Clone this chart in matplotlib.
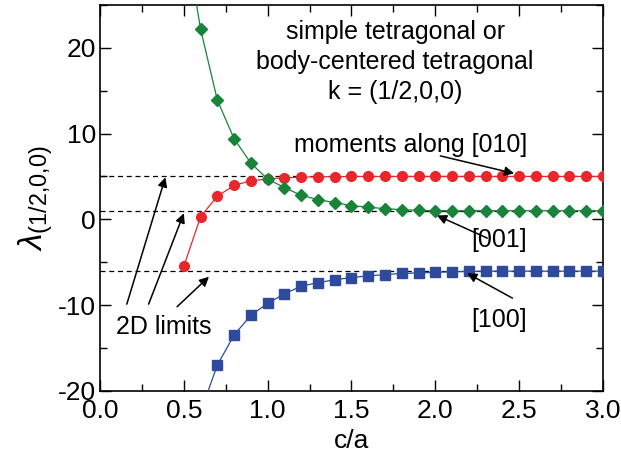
"""
    Lambda(1/2,0,0) vs c/a for tetragonal lattices
"""

from matplotlib import pyplot as plt
from matplotlib.ticker import MultipleLocator

plt.rcParams['font.family'] = ['Liberation Sans', 'DejaVu Sans']
plt.rcParams['mathtext.fontset'] = 'custom'
plt.rcParams['mathtext.rm'] = 'Liberation Sans'
plt.rcParams['mathtext.it'] = 'Liberation Sans:italic'
plt.rcParams['axes.unicode_minus'] = False

# moments along [010] (red circles)
ca_red = [0.5, 0.6, 0.7, 0.8, 0.9, 1.0, 1.1, 1.2, 1.3, 1.4, 1.5, 1.6, 1.7, 1.8,
          1.9, 2.0, 2.1, 2.2, 2.3, 2.4, 2.5, 2.6, 2.7, 2.8, 2.9, 3.0]
lam_red = [-5.5, 0.3, 2.7, 3.95, 4.5, 4.7, 4.85, 4.92, 4.96, 4.98, 5.0, 5.0, 5.0,
           5.0, 5.0, 5.0, 5.0, 5.0, 5.0, 5.0, 5.0, 5.0, 5.0, 5.0, 5.0, 5.0]

# [001] (green diamonds)
ca_green = [0.5, 0.6, 0.7, 0.8, 0.9, 1.0, 1.1, 1.2, 1.3, 1.4, 1.5, 1.6, 1.7, 1.8,
            1.9, 2.0, 2.1, 2.2, 2.3, 2.4, 2.5, 2.6, 2.7, 2.8, 2.9, 3.0]
lam_green = [34.0, 22.2, 13.9, 9.4, 6.55, 4.7, 3.7, 2.8, 2.3, 1.95, 1.6, 1.4, 1.25,
             1.12, 1.05, 1.0, 1.0, 1.0, 1.0, 1.0, 1.0, 1.0, 1.0, 1.0, 1.0, 1.0]

# [100] (blue squares)
ca_blue = [0.6, 0.7, 0.8, 0.9, 1.0, 1.1, 1.2, 1.3, 1.4, 1.5, 1.6, 1.7, 1.8,
           1.9, 2.0, 2.1, 2.2, 2.3, 2.4, 2.5, 2.6, 2.7, 2.8, 2.9, 3.0]
lam_blue = [-22.5, -17.0, -13.5, -11.2, -9.8, -8.7, -7.8, -7.4, -7.05, -6.8, -6.6,
            -6.45, -6.32, -6.25, -6.2, -6.12, -6.08, -6.05, -6.05, -6.05, -6.05,
            -6.05, -6.05, -6.05, -6.05]

limits_2d = [5.0, 1.0, -6.0]

fig = plt.figure(figsize=(6.21, 4.61), dpi=100)
ax = fig.add_axes([0.161, 0.1525, 0.81, 0.8365])

for y in limits_2d:
    ax.axhline(y, color='black', ls=(0, (4, 3)), lw=0.9, zorder=1)

ax.plot(ca_red, lam_red, '-o', color='#e8262b', lw=0.9, ms=7, zorder=3)
ax.plot(ca_green, lam_green, '-D', color='#17843a', lw=0.9, ms=6.5, zorder=3)
ax.plot(ca_blue, lam_blue, '-s', color='#2d4a9c', lw=0.9, ms=7, zorder=3)

ax.set_xlim(0.0, 3.0)
ax.set_ylim(-20, 25)
ax.set_xticks([0.0, 0.5, 1.0, 1.5, 2.0, 2.5, 3.0])
ax.set_yticks([-20, -10, 0, 10, 20])
ax.xaxis.set_minor_locator(MultipleLocator(0.25))
ax.yaxis.set_minor_locator(MultipleLocator(5))
ax.tick_params(which='both', direction='in', top=True, right=True,
               labelsize=19, width=1)
ax.tick_params(axis='x', pad=6)
ax.tick_params(axis='y', pad=3)
ax.tick_params(which='major', length=8)
ax.tick_params(which='minor', length=5)
for s in ax.spines.values():
    s.set_linewidth(1.2)

ax.set_xlabel('c/a', fontsize=19, labelpad=4)
ax.set_ylabel(r'$\lambda_{\mathrm{(1/2{,}0{,}0)}}$', fontsize=24, labelpad=2)

ax.text(1.76, 18.4, 'simple tetragonal or\nbody-centered tetragonal\nk = (1/2,0,0)',
        ha='center', va='center', fontsize=18, linespacing=1.32)
ax.text(1.85, 8.7, 'moments along [010]', ha='center', va='center', fontsize=18)
ax.text(2.38, -2.4, '[001]', ha='center', va='center', fontsize=18)
ax.text(2.38, -11.7, '[100]', ha='center', va='center', fontsize=18)
ax.text(0.38, -12.6, '2D limits', ha='center', va='center', fontsize=18)

arrow = dict(arrowstyle='-|>', color='black', lw=1.1, mutation_scale=14,
             shrinkA=0, shrinkB=0)
ax.annotate('', xy=(2.47, 5.35), xytext=(2.03, 7.4), arrowprops=arrow)
ax.annotate('', xy=(2.01, 0.45), xytext=(2.31, -2.2), arrowprops=arrow)
ax.annotate('', xy=(2.19, -6.3), xytext=(2.46, -9.2), arrowprops=arrow)
ax.annotate('', xy=(0.39, 4.9), xytext=(0.16, -9.9), arrowprops=arrow)
ax.annotate('', xy=(0.50, 0.7), xytext=(0.29, -9.9), arrowprops=arrow)
ax.annotate('', xy=(0.65, -6.7), xytext=(0.46, -10.2), arrowprops=arrow)

plt.savefig('out.png', dpi=100)
